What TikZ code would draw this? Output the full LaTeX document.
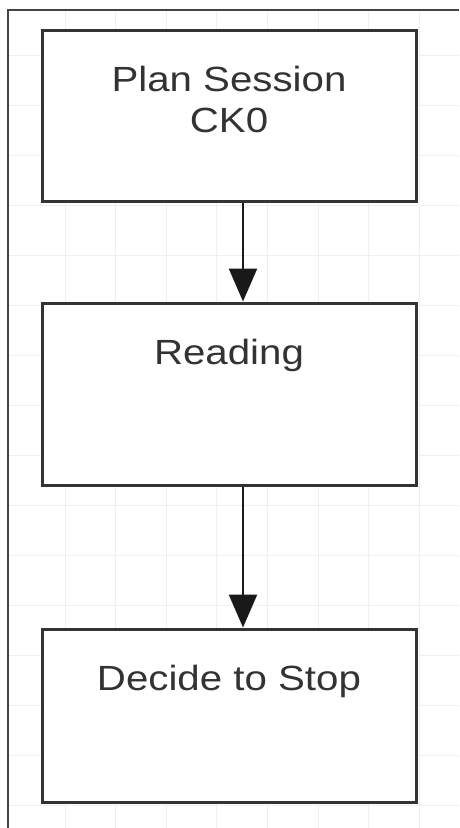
\documentclass[tikz,border=0pt]{standalone}
\usepackage{fontspec}
\setmainfont{Liberation Sans}
\newfontfamily\widesans[FakeStretch=1.15]{Liberation Sans}
\usetikzlibrary{arrows.meta}
\definecolor{boxline}{HTML}{333333}
\definecolor{txt}{HTML}{333333}
\definecolor{gridc}{HTML}{EFEFEF}
\definecolor{framec}{HTML}{444444}
\tikzset{
  stepbox/.style={draw=boxline, line width=3pt, minimum width=374pt, inner sep=0pt, fill=white},
  boxtext/.style={anchor=north, yshift=-37pt, inner sep=0pt, align=center, text=txt, font=\widesans\fontsize{35}{41}\selectfont},
  arr/.style={draw=black!90, line width=2.5pt, -{Triangle[length=33pt,width=28pt]}},
  gridline/.style={draw=gridc, line width=1pt},
  framel/.style={draw=framec, line width=1.5pt}
}
\begin{document}
\begin{tikzpicture}[x=1pt,y=-1pt]
\useasboundingbox[fill=white] (0,0) rectangle (459,828);
% grid
\foreach \i in {0,...,7} { \draw[gridline] ({65+50.6*\i},10) -- ({65+50.6*\i},828); }
\foreach \j in {0,...,15} { \draw[gridline] (8,{55+50*\j}) -- (459,{55+50*\j}); }
% frame
\draw[framel] (8,828) -- (8,10) -- (459,10);
% boxes
\node[stepbox, minimum height=171pt, label={[boxtext, name=t1]north:Plan Session\\CK0}] (b1) at (229,115.5) {};
\node[stepbox, minimum height=182pt, label={[boxtext, name=t2]north:Reading}] (b2) at (229,394) {};
\node[stepbox, minimum height=173pt, label={[boxtext, name=t3]north:Decide to Stop}] (b3) at (229,715.5) {};
% arrows
\draw[arr] ([xshift=14pt]b1.south) -- ([xshift=14pt]b2.north);
\draw[arr] ([xshift=14pt]b2.south) -- ([xshift=14pt]b3.north);
\end{tikzpicture}
\end{document}
